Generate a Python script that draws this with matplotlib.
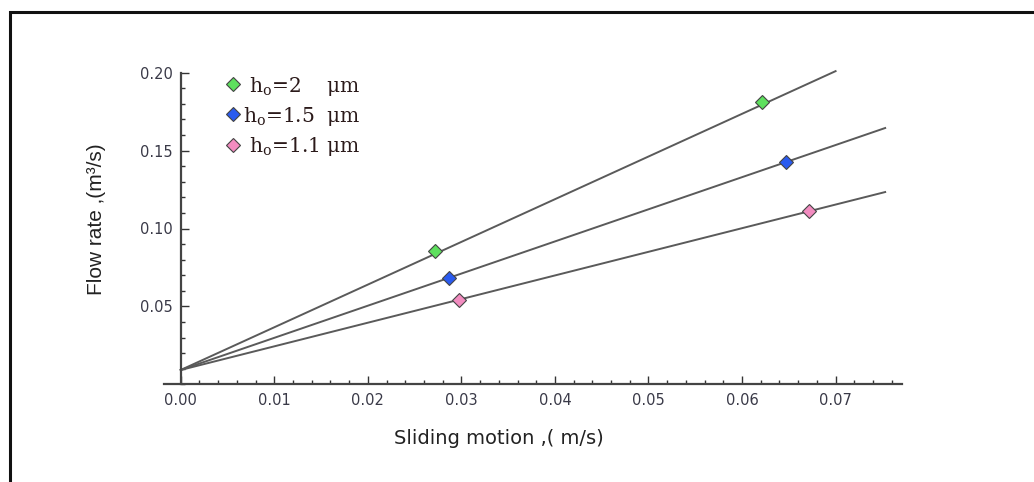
"""
Flow rate versus sliding motion for three film thicknesses h_o.
Scatter points with their straight fit lines, Mathematica-like axes.
"""

import matplotlib
matplotlib.use("Agg")
import matplotlib.pyplot as plt
from matplotlib.lines import Line2D
from matplotlib.ticker import MultipleLocator, FixedLocator

# ---- data ------------------------------------------------------------------
labels = [r" h$_{\mathrm{o}}$=2    μm", r"h$_{\mathrm{o}}$=1.5  μm", r" h$_{\mathrm{o}}$=1.1 μm"]
colors = ["#5ee05e", "#2a5bef", "#f28cc0"]

green_x = [0.0272, 0.0621]
green_y = [0.0854, 0.1812]
blue_x = [0.0287, 0.0647]
blue_y = [0.0681, 0.1427]
pink_x = [0.0297, 0.0672]
pink_y = [0.0540, 0.1111]

# straight fit lines: start at x=0, end at fit_x_end
fit_y_start = [0.0092, 0.0092, 0.0092]
fit_x_end = [0.0700, 0.0753, 0.0753]
fit_y_end = [0.2010, 0.1645, 0.1234]

x_ticks = [0.00, 0.01, 0.02, 0.03, 0.04, 0.05, 0.06, 0.07]
y_ticks = [0.05, 0.10, 0.15, 0.20]

plt.rcParams["mathtext.fontset"] = "dejavuserif"

W, H = 1034, 482
fig = plt.figure(figsize=(W / 100, H / 100), dpi=100)

# ---- axes ---------------------------------------------------------------
ax_left, ax_right = 164, 902
ax_bottom, ax_top = 384.3, 72.7
ax = fig.add_axes([ax_left / W, 1 - ax_bottom / H,
                   (ax_right - ax_left) / W, (ax_bottom - ax_top) / H])
ax.set_xlim(-0.00179, 0.0771)
ax.set_ylim(0.0, 0.20)

ax.spines["top"].set_visible(False)
ax.spines["right"].set_visible(False)
ax.spines["left"].set_position(("data", 0.0))
for side in ("left", "bottom"):
    ax.spines[side].set_linewidth(1.6)
    ax.spines[side].set_color("#444444")

ax.xaxis.set_major_locator(FixedLocator(x_ticks))
ax.xaxis.set_minor_locator(MultipleLocator(0.002))
ax.yaxis.set_major_locator(FixedLocator(y_ticks))
ax.yaxis.set_minor_locator(MultipleLocator(0.01))
ax.set_xticklabels([f"{v:.2f}" for v in x_ticks])
ax.set_yticklabels([f"{v:.2f}" for v in y_ticks])
ax.tick_params(which="both", direction="in", color="#333333", width=1.0,
               labelsize=10.5, labelcolor="#3a3a48", pad=6)
ax.tick_params(which="major", length=6)
ax.tick_params(which="minor", length=3)

# ---- fit lines and points -------------------------------------------------
series = [(green_x, green_y), (blue_x, blue_y), (pink_x, pink_y)]
for i, (xs, ys) in enumerate(series):
    ax.plot([0.0, fit_x_end[i]], [fit_y_start[i], fit_y_end[i]],
            color="#5a5a5a", lw=1.4, zorder=2, clip_on=False)
    ax.plot(xs, ys, ls="none", marker="D", ms=7.5, mfc=colors[i],
            mec="#444444", mew=0.8, zorder=3)

# ---- labels ---------------------------------------------------------------
ax.set_xlabel("Sliding motion ,( m/s)", fontsize=14, color="#222222",
              family="DejaVu Sans")
ax.xaxis.set_label_coords((499 - ax_left) / (ax_right - ax_left),
                          (ax_bottom - 429) / (ax_bottom - ax_top))
ax.set_ylabel("Flow rate ,(m³/s)", fontsize=15, color="#222222",
              family="Liberation Sans")
ax.yaxis.set_label_coords((106 - ax_left) / (ax_right - ax_left),
                          (ax_bottom - 219) / (ax_bottom - ax_top))

# ---- legend -------------------------------------------------------------
handles = [Line2D([], [], ls="none", marker="D", ms=7.5, mfc=c,
                  mec="#444444", mew=0.8) for c in colors]
leg = ax.legend(handles, labels, loc="upper left",
                bbox_to_anchor=(223 / W, 1 - 74.5 / H),
                bbox_transform=fig.transFigure, frameon=False,
                borderpad=0, borderaxespad=0, handlelength=1.0,
                handletextpad=0.0, labelspacing=0.35,
                prop={"family": "DejaVu Serif", "size": 14.5})
for t in leg.get_texts():
    t.set_color("#2b1a1a")

# ---- outer frame (top and left edges only) ---------------------------------
fig.add_artist(Line2D([10 / W, 10 / W, 1.0], [0.0, 1 - 11.5 / H, 1 - 11.5 / H],
                      transform=fig.transFigure, color="#111111", lw=2.2,
                      solid_joinstyle="miter"))

fig.savefig("out.png", dpi=100)
